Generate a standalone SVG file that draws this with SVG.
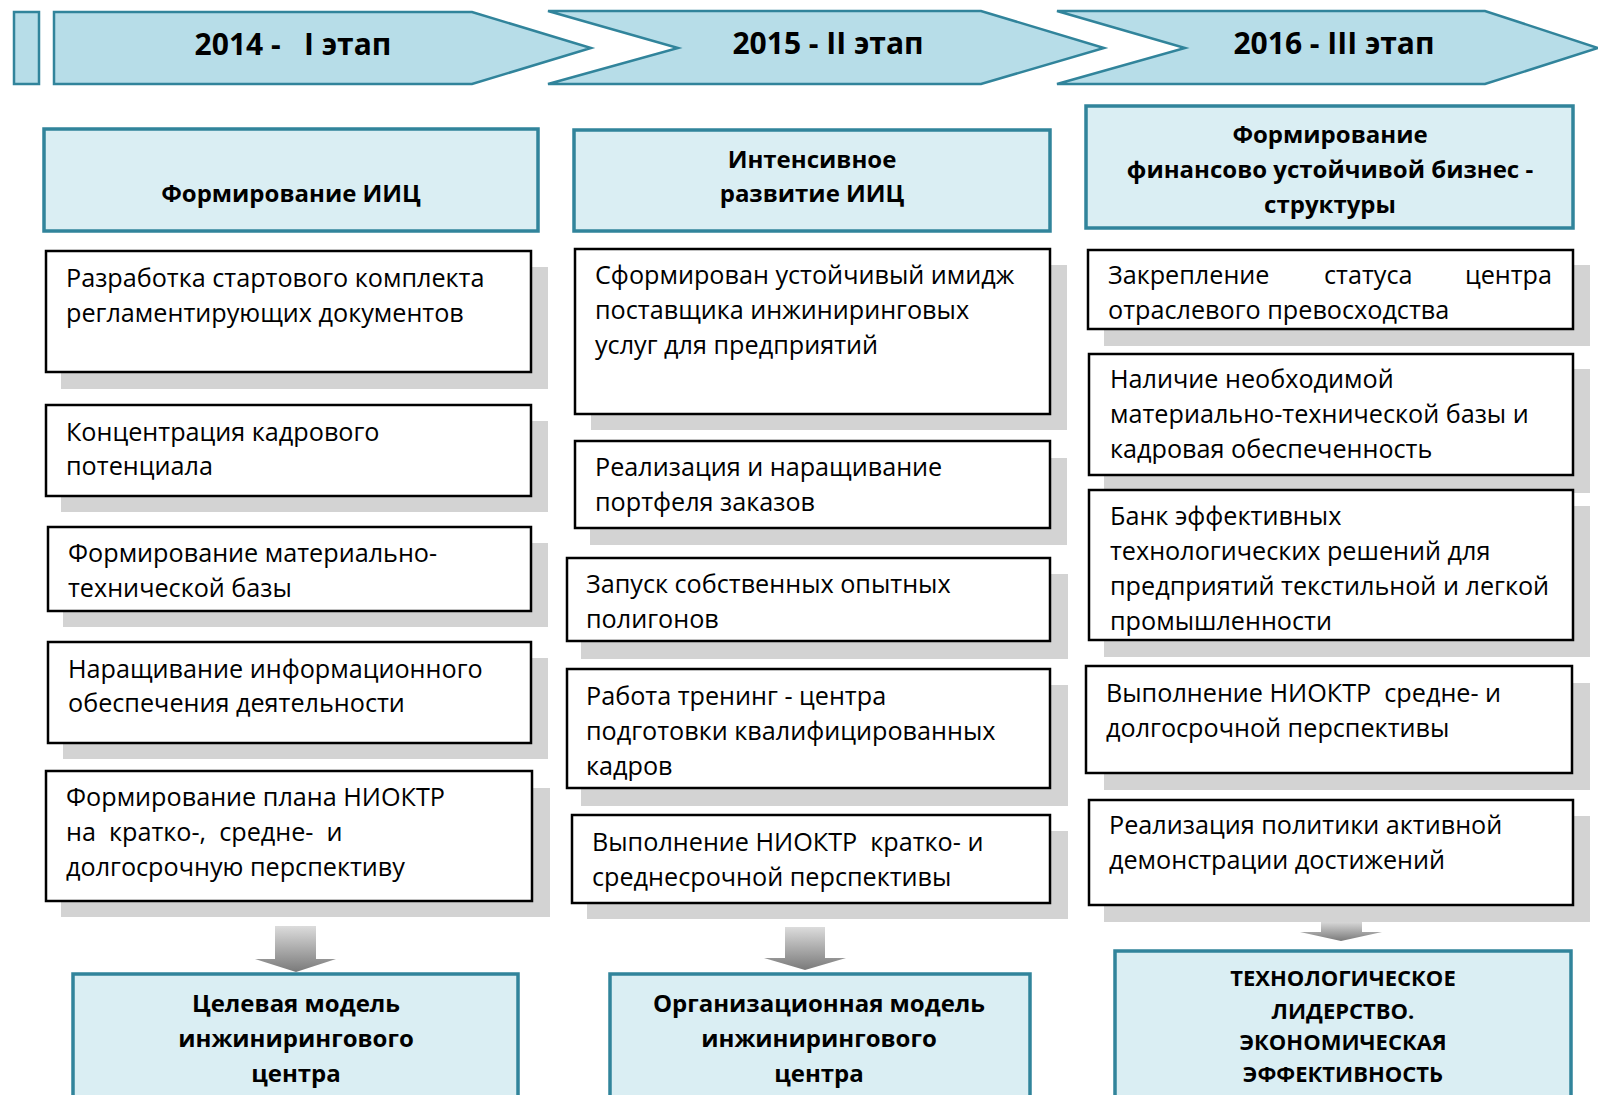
<svg xmlns="http://www.w3.org/2000/svg" width="1598" height="1095" viewBox="0 0 1598 1095">
<defs>
<linearGradient id="dg" x1="0" y1="0" x2="0" y2="1">
<stop offset="0" stop-color="#DCDCDC"/>
<stop offset="1" stop-color="#7A7A7A"/>
</linearGradient>
<style>
.stage{fill:#B7DDE8;stroke:#31849B;stroke-width:2.5}
.hdr{fill:#DAEEF3;stroke:#31849B;stroke-width:3.5}
.box{fill:#FFFFFF;stroke:#000000;stroke-width:2.5}
.sh{fill:#D3D3D3}
.t{font-family:"Open Sans","Noto Sans","DejaVu Sans",sans-serif;font-size:25.2px;fill:#000000}
.b{font-size:24px;font-weight:bold;text-anchor:middle}
.ttl{font-family:"Open Sans","Noto Sans","DejaVu Sans",sans-serif;font-size:30px;font-weight:bold;text-anchor:middle;fill:#000000}
.up{font-size:22px}
.arr{fill:url(#dg)}
</style>
</defs>
<rect width="1598" height="1095" fill="#FFFFFF"/>

<g id="stages">
<rect class="stage" x="14" y="12" width="25" height="72"/>
<g id="stage1">
<path class="stage" d="M54,12 H472 L591,48 L472,84 H54 Z"/>
<text class="ttl" x="293" y="55" xml:space="preserve">2014 -   I этап</text>
</g>
<g id="stage2">
<path class="stage" d="M548,11 H981 L1104,48 L981,84 H548 L678,48 Z"/>
<text class="ttl" x="828" y="54">2015 - II этап</text>
</g>
<g id="stage3">
<path class="stage" d="M1057,11 H1485 L1598,48 L1485,84 H1057 L1185,48 Z"/>
<text class="ttl" x="1334" y="54">2016 - III этап</text>
</g>
</g>

<g id="connectors">
<path class="arr" d="M275,926 H316 V959 H336 L296,972 L255,959 H275 Z"/>
<path class="arr" d="M785,927 H825 V958 H846 L805,970 L764,958 H785 Z"/>
<path class="arr" d="M1321,921 H1362 V932 H1382 L1341,941 L1300,932 H1321 Z"/>
</g>

<!-- Column 1 -->
<g id="c1-head">
<rect class="hdr" x="44" y="129" width="494" height="102"/>
<text class="t b" x="291" y="202">Формирование ИИЦ</text>
</g>
<g id="c1-a">
<rect class="sh" x="61" y="267" width="487" height="122"/>
<rect class="box" x="46" y="251" width="485" height="121"/>
<text class="t" x="66" y="287">Разработка стартового комплекта</text>
<text class="t" x="66" y="322">регламентирующих документов</text>
</g>
<g id="c1-b">
<rect class="sh" x="61" y="421" width="487" height="91"/>
<rect class="box" x="46" y="405" width="485" height="91"/>
<text class="t" x="66" y="441">Концентрация кадрового</text>
<text class="t" x="66" y="475">потенциала</text>
</g>
<g id="c1-c">
<rect class="sh" x="63" y="543" width="485" height="84"/>
<rect class="box" x="48" y="527" width="483" height="84"/>
<text class="t" x="68" y="562">Формирование материально-</text>
<text class="t" x="68" y="597">технической базы</text>
</g>
<g id="c1-d">
<rect class="sh" x="63" y="658" width="485" height="101"/>
<rect class="box" x="48" y="642" width="483" height="101"/>
<text class="t" x="68" y="678">Наращивание информационного</text>
<text class="t" x="68" y="712">обеспечения деятельности</text>
</g>
<g id="c1-e">
<rect class="sh" x="61" y="788" width="489" height="129"/>
<rect class="box" x="46" y="771" width="486" height="130"/>
<text class="t" x="66" y="806">Формирование плана НИОКТР</text>
<text class="t" x="66" y="841" xml:space="preserve">на  кратко-,  средне-  и</text>
<text class="t" x="66" y="876">долгосрочную перспективу</text>
</g>
<g id="c1-result">
<rect class="hdr" x="73" y="974" width="445" height="140"/>
<text class="t b" x="296" y="1012">Целевая модель</text>
<text class="t b" x="296" y="1047">инжинирингового</text>
<text class="t b" x="296" y="1082">центра</text>
</g>

<!-- Column 2 -->
<g id="c2-head">
<rect class="hdr" x="574" y="130" width="476" height="101"/>
<text class="t b" x="812" y="168">Интенсивное</text>
<text class="t b" x="812" y="202">развитие ИИЦ</text>
</g>
<g id="c2-a">
<rect class="sh" x="591" y="265" width="476" height="165"/>
<rect class="box" x="575" y="249" width="475" height="165"/>
<text class="t" x="595" y="284">Сформирован устойчивый имидж</text>
<text class="t" x="595" y="319">поставщика инжиниринговых</text>
<text class="t" x="595" y="354">услуг для предприятий</text>
</g>
<g id="c2-b">
<rect class="sh" x="590" y="458" width="477" height="87"/>
<rect class="box" x="575" y="441" width="475" height="87"/>
<text class="t" x="595" y="476">Реализация и наращивание</text>
<text class="t" x="595" y="511">портфеля заказов</text>
</g>
<g id="c2-c">
<rect class="sh" x="581" y="574" width="487" height="85"/>
<rect class="box" x="567" y="558" width="483" height="83"/>
<text class="t" x="586" y="593">Запуск собственных опытных</text>
<text class="t" x="586" y="628">полигонов</text>
</g>
<g id="c2-d">
<rect class="sh" x="581" y="685" width="487" height="121"/>
<rect class="box" x="567" y="669" width="483" height="119"/>
<text class="t" x="586" y="705">Работа тренинг - центра</text>
<text class="t" x="586" y="740">подготовки квалифицированных</text>
<text class="t" x="586" y="775">кадров</text>
</g>
<g id="c2-e">
<rect class="sh" x="587" y="831" width="481" height="88"/>
<rect class="box" x="572" y="815" width="478" height="88"/>
<text class="t" x="592" y="851" xml:space="preserve">Выполнение НИОКТР  кратко- и</text>
<text class="t" x="592" y="886">среднесрочной перспективы</text>
</g>
<g id="c2-result">
<rect class="hdr" x="610" y="974" width="420" height="140"/>
<text class="t b" x="819" y="1012">Организационная модель</text>
<text class="t b" x="819" y="1047">инжинирингового</text>
<text class="t b" x="819" y="1082">центра</text>
</g>

<!-- Column 3 -->
<g id="c3-head">
<rect class="hdr" x="1086" y="106" width="487" height="122"/>
<text class="t b" x="1330" y="143">Формирование</text>
<text class="t b" x="1330" y="178">финансово устойчивой бизнес -</text>
<text class="t b" x="1330" y="213">структуры</text>
</g>
<g id="c3-a">
<rect class="sh" x="1104" y="265" width="486" height="81"/>
<rect class="box" x="1088" y="250" width="485" height="79"/>
<text class="t" x="1108" y="284">Закрепление</text>
<text class="t" x="1324" y="284">статуса</text>
<text class="t" x="1552" y="284" text-anchor="end">центра</text>
<text class="t" x="1108" y="319">отраслевого превосходства</text>
</g>
<g id="c3-b">
<rect class="sh" x="1104" y="369" width="486" height="124"/>
<rect class="box" x="1089" y="354" width="484" height="121"/>
<text class="t" x="1110" y="388">Наличие необходимой</text>
<text class="t" x="1110" y="423">материально-технической базы и</text>
<text class="t" x="1110" y="458">кадровая обеспеченность</text>
</g>
<g id="c3-c">
<rect class="sh" x="1104" y="506" width="486" height="151"/>
<rect class="box" x="1089" y="490" width="484" height="150"/>
<text class="t" x="1110" y="525">Банк эффективных</text>
<text class="t" x="1110" y="560">технологических решений для</text>
<text class="t" x="1110" y="595">предприятий текстильной и легкой</text>
<text class="t" x="1110" y="630">промышленности</text>
</g>
<g id="c3-d">
<rect class="sh" x="1104" y="683" width="486" height="107"/>
<rect class="box" x="1086" y="666" width="486" height="107"/>
<text class="t" x="1106" y="702" xml:space="preserve">Выполнение НИОКТР  средне- и</text>
<text class="t" x="1106" y="737">долгосрочной перспективы</text>
</g>
<g id="c3-e">
<rect class="sh" x="1104" y="816" width="486" height="106"/>
<rect class="box" x="1089" y="800" width="484" height="105"/>
<text class="t" x="1109" y="834">Реализация политики активной</text>
<text class="t" x="1109" y="869">демонстрации достижений</text>
</g>
<g id="c3-result">
<rect class="hdr" x="1115" y="951" width="456" height="160"/>
<text class="t b up" x="1343" y="986">ТЕХНОЛОГИЧЕСКОЕ</text>
<text class="t b up" x="1343" y="1019">ЛИДЕРСТВО.</text>
<text class="t b up" x="1343" y="1050">ЭКОНОМИЧЕСКАЯ</text>
<text class="t b up" x="1343" y="1082">ЭФФЕКТИВНОСТЬ</text>
</g>
</svg>
